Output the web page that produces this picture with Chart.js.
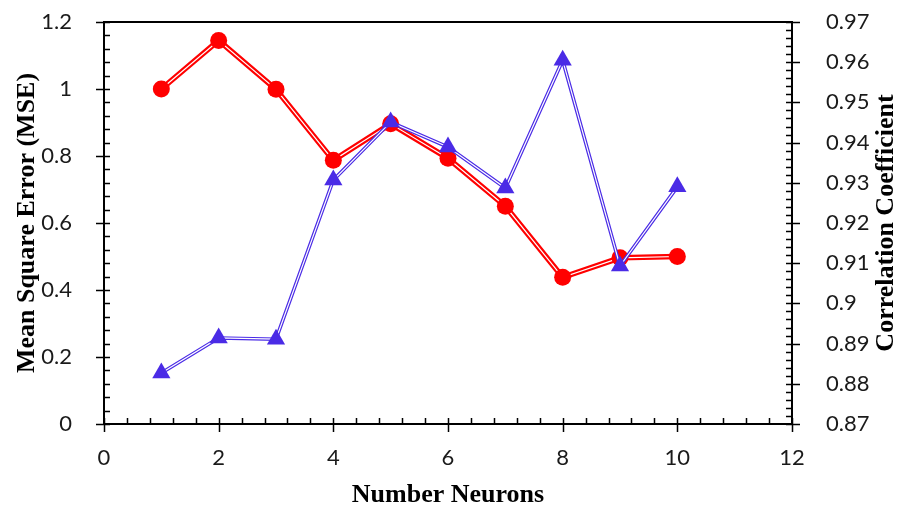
<!DOCTYPE html>
<html>
<head>
<meta charset="utf-8">
<script src="https://cdn.jsdelivr.net/npm/chart.js@4/dist/chart.umd.min.js"></script>
<style>
  html, body { margin: 0; padding: 0; background: #fff; }
  #wrap { width: 898px; height: 511px; }
</style>
</head>
<body>
<div id="wrap"><canvas id="chart" width="898" height="511"></canvas></div>
<script>
const neurons = [1, 2, 3, 4, 5, 6, 7, 8, 9, 10];
const mse = [1.0, 1.145, 0.999, 0.787, 0.896, 0.793, 0.65, 0.438, 0.496, 0.5];
const corr = [0.8827, 0.8914, 0.8911, 0.9307, 0.9451, 0.9389, 0.9287, 0.9605, 0.9093, 0.929];

const xTicks = [0, 2, 4, 6, 8, 10, 12];
const mseTicks = [0, 0.2, 0.4, 0.6, 0.8, 1, 1.2];
const corrTicks = [0.87, 0.88, 0.89, 0.9, 0.91, 0.92, 0.93, 0.94, 0.95, 0.96, 0.97];

const red = "#ff0000";
const blue = "#4a2be6";
const tickFont = { family: "Lato", size: 22 };
const titleFont = "bold 26px 'Liberation Serif'";

const toPoints = (ys) => neurons.map((x, i) => ({ x: x, y: ys[i] }));
const plainNumber = (v) => String(+Number(v).toFixed(3));

// fixed box sizes so the plot area lands where we want it
const fixBox = (size) => (s) => {
    if (s.isHorizontal()) s.height = size; else s.width = size;
    s.paddingTop = s.paddingBottom = s.paddingLeft = s.paddingRight = 0;
};

// axis lines, crossing major ticks, inner minor ticks, titles
const axesPlugin = {
    id: "axesPlugin",
    afterDraw(chart) {
        const ctx = chart.ctx;
        const area = chart.chartArea;
        const sx = chart.scales.x, sy = chart.scales.y, sy2 = chart.scales.y2;
        ctx.save();
        ctx.strokeStyle = "#000";

        ctx.lineWidth = 1.5;
        ctx.beginPath();
        // minor ticks
        for (let v = 0; v <= 12.001; v += 0.4) {
            const px = Math.round(sx.getPixelForValue(v)) + 0.5;
            ctx.moveTo(px, area.bottom);
            ctx.lineTo(px, area.bottom - 6);
        }
        for (let v = 0; v <= 1.2001; v += 0.04) {
            const py = Math.round(sy.getPixelForValue(v)) + 0.5;
            ctx.moveTo(area.left, py);
            ctx.lineTo(area.left + 6, py);
        }
        for (let v = 0.87; v <= 0.97001; v += 0.002) {
            const py = Math.round(sy2.getPixelForValue(v)) + 0.5;
            ctx.moveTo(area.right, py);
            ctx.lineTo(area.right - 6, py);
        }
        // major ticks
        xTicks.forEach(v => {
            const px = Math.round(sx.getPixelForValue(v)) + 0.5;
            ctx.moveTo(px, area.bottom - 6);
            ctx.lineTo(px, area.bottom + 8);
        });
        mseTicks.forEach(v => {
            const py = Math.round(sy.getPixelForValue(v)) + 0.5;
            ctx.moveTo(area.left - 8, py);
            ctx.lineTo(area.left + 6, py);
        });
        corrTicks.forEach(v => {
            const py = Math.round(sy2.getPixelForValue(v)) + 0.5;
            ctx.moveTo(area.right - 6, py);
            ctx.lineTo(area.right + 8, py);
        });
        ctx.stroke();

        // frame
        ctx.lineWidth = 2;
        ctx.strokeRect(area.left, area.top, area.right - area.left, area.bottom - area.top);

        // axis titles
        ctx.fillStyle = "#000";
        ctx.font = titleFont;
        ctx.textAlign = "center";
        ctx.textBaseline = "middle";
        ctx.fillText("Number Neurons", (area.left + area.right) / 2, 495);

        ctx.save();
        ctx.translate(27, (area.top + area.bottom) / 2);
        ctx.rotate(-Math.PI / 2);
        ctx.fillText("Mean Square Error (MSE)", 0, 0);
        ctx.restore();

        ctx.save();
        ctx.translate(886, (area.top + area.bottom) / 2);
        ctx.rotate(-Math.PI / 2);
        ctx.fillText("Correlation Coefficient", 0, 0);
        ctx.restore();

        ctx.restore();
    }
};

const makeScale = (extra) => Object.assign({
    type: "linear",
    grid: { display: false },
    border: { display: false },
}, extra);

new Chart(document.getElementById("chart"), {
    type: "scatter",
    data: {
        datasets: [
            {
                // correlation: white core line with triangle markers
                data: toPoints(corr), yAxisID: "y2", showLine: true,
                borderColor: "#fff", borderWidth: 1.2,
                pointStyle: "triangle", pointRadius: 10.5,
                pointBackgroundColor: blue, pointBorderColor: blue, pointBorderWidth: 0,
            },
            {
                data: toPoints(corr), yAxisID: "y2", showLine: true,
                borderColor: blue, borderWidth: 3.6, pointRadius: 0,
            },
            {
                // MSE: white core line with round markers
                data: toPoints(mse), yAxisID: "y", showLine: true,
                borderColor: "#fff", borderWidth: 1.2,
                pointStyle: "circle", pointRadius: 8.5,
                pointBackgroundColor: red, pointBorderColor: red, pointBorderWidth: 0,
            },
            {
                data: toPoints(mse), yAxisID: "y", showLine: true,
                borderColor: red, borderWidth: 5.5, pointRadius: 0,
            },
        ]
    },
    options: {
        responsive: false,
        animation: false,
        layout: { padding: { top: 22, left: 0, right: 0, bottom: 0 } },
        plugins: { legend: { display: false }, tooltip: { enabled: false } },
        elements: { line: { tension: 0 } },
        scales: {
            x: makeScale({
                position: "bottom", min: 0, max: 12,
                afterBuildTicks: (s) => { s.ticks = xTicks.map(v => ({ value: v })); },
                afterFit: fixBox(87),
                ticks: { font: tickFont, color: "#1a1a1a", padding: 13, maxRotation: 0, callback: plainNumber },
            }),
            y: makeScale({
                position: "left", min: 0, max: 1.2,
                afterBuildTicks: (s) => { s.ticks = mseTicks.map(v => ({ value: v })); },
                afterFit: fixBox(104),
                ticks: { font: tickFont, color: "#1a1a1a", padding: 24, callback: plainNumber },
            }),
            y2: makeScale({
                position: "right", min: 0.87, max: 0.97,
                afterBuildTicks: (s) => { s.ticks = corrTicks.map(v => ({ value: v })); },
                afterFit: fixBox(106),
                ticks: { font: tickFont, color: "#1a1a1a", padding: 26, callback: plainNumber },
            }),
        }
    },
    plugins: [axesPlugin]
});
</script>
</body>
</html>
